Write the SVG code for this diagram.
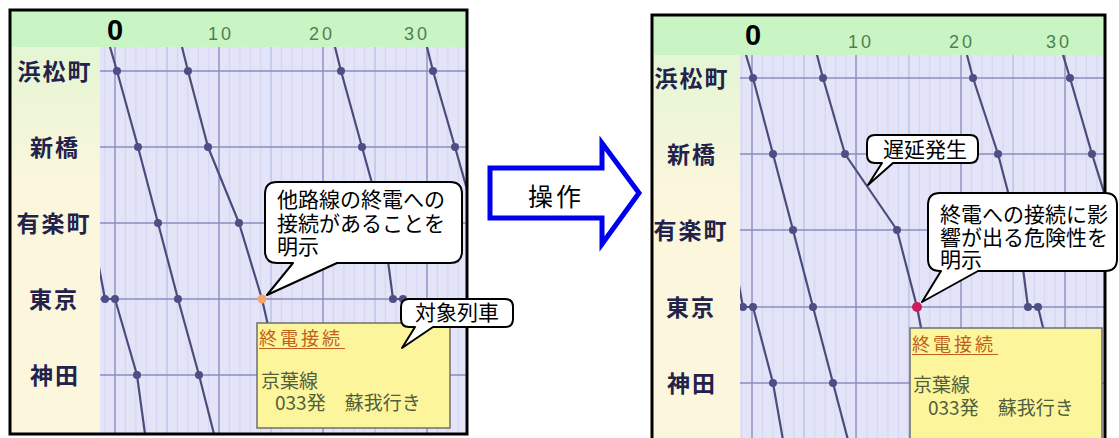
<svg xmlns="http://www.w3.org/2000/svg" width="1119" height="438" viewBox="0 0 1119 438">
<style>
.frame{fill:none;stroke:#000;stroke-width:3}
.hdr{fill:#c9f5c4}
.plot{fill:#e4e4f8}
.maj{stroke:#9494c4;stroke-width:1.5}
.mid{stroke:#b4c4e6;stroke-width:1.2}
.sta{stroke:#8c8cc0;stroke-width:1.5}
.train{fill:none;stroke:#4c4c7c;stroke-width:2.2;stroke-linejoin:round}
.dot{fill:#4e4e86}
.stn{font-family:"Noto Sans CJK JP",sans-serif;font-weight:bold;font-size:23px;fill:#22224a;text-anchor:middle;letter-spacing:2px}
.zero{font-family:"Liberation Sans",sans-serif;font-weight:bold;font-size:29px;fill:#000;text-anchor:middle}
.num{font-family:"Liberation Sans",sans-serif;font-size:18px;fill:#4f7f4f;text-anchor:middle;letter-spacing:3px}
.tip{fill:#fdf59c;stroke:#6e6e6e;stroke-width:1.5}
.tt1{font-family:"Noto Sans CJK JP",sans-serif;font-size:18px;fill:#c0601a;letter-spacing:3px}
.tt2{font-family:"Noto Sans CJK JP",sans-serif;font-size:19px;fill:#50603e}
.bub{fill:#fff;stroke:#000;stroke-width:2;stroke-linejoin:round}
.btx{font-family:"Noto Sans CJK JP",sans-serif;font-size:21px;fill:#000}
</style>
<defs>
<pattern id="minL" patternUnits="userSpaceOnUse" x="110" y="0" width="10.4" height="20"><line x1="5" y1="0" x2="5" y2="20" stroke="#d2d2ee" stroke-width="1"/></pattern>
<pattern id="minR" patternUnits="userSpaceOnUse" x="747" y="0" width="10.45" height="20"><line x1="5" y1="0" x2="5" y2="20" stroke="#d2d2ee" stroke-width="1"/></pattern>
<linearGradient id="lab" x1="0" y1="0" x2="0" y2="1"><stop offset="0" stop-color="#e4f6d4"/><stop offset="0.35" stop-color="#fbf6dc"/><stop offset="1" stop-color="#fbf6dc"/></linearGradient>
<clipPath id="cL"><rect x="100" y="47" width="366" height="387"/></clipPath>
<clipPath id="cR"><rect x="740" y="55" width="364" height="390"/></clipPath>
</defs>
<rect width="1119" height="438" fill="#fff"/>

<g id="panel-before">
<rect x="10" y="10" width="457" height="424" fill="#fff"/>
<rect class="hdr" x="10" y="10" width="457" height="37"/>
<rect x="10" y="47" width="90" height="387" fill="url(#lab)"/>
<rect class="plot" x="100" y="47" width="366" height="387"/>
<rect x="100" y="47" width="366" height="387" fill="url(#minL)"/>
<g clip-path="url(#cL)">
<line class="mid" x1="167" y1="47" x2="167" y2="434"/><line class="mid" x1="271" y1="47" x2="271" y2="434"/><line class="mid" x1="375" y1="47" x2="375" y2="434"/>
<line class="maj" x1="115" y1="47" x2="115" y2="434"/><line class="maj" x1="219" y1="47" x2="219" y2="434"/><line class="maj" x1="323" y1="47" x2="323" y2="434"/><line class="maj" x1="427" y1="47" x2="427" y2="434"/>
<line class="sta" x1="100" y1="71" x2="466" y2="71"/><line class="sta" x1="100" y1="147" x2="466" y2="147"/><line class="sta" x1="100" y1="223" x2="466" y2="223"/><line class="sta" x1="100" y1="299" x2="466" y2="299"/><line class="sta" x1="100" y1="375" x2="466" y2="375"/>
<polyline class="train" points="98,262 105,299 115,299 137,375 145,434"/>
<polyline class="train" points="110,47 117,71 138,147 158,223 178,299 199,375 214,434"/>
<polyline class="train" points="182,47 188,71 208,147 239,223 262,299 285,400"/>
<polyline class="train" points="335,47 341,71 362,147 383,223 393,299 403,299 412,340"/>
<polyline class="train" points="427,47 433,71 455,147 470,200"/>
<circle class="dot" cx="105" cy="299" r="4"/><circle class="dot" cx="115" cy="299" r="4"/><circle class="dot" cx="137" cy="375" r="4"/>
<circle class="dot" cx="117" cy="71" r="4"/><circle class="dot" cx="138" cy="147" r="4"/><circle class="dot" cx="158" cy="223" r="4"/><circle class="dot" cx="178" cy="299" r="4"/><circle class="dot" cx="199" cy="375" r="4"/>
<circle class="dot" cx="188" cy="71" r="4"/><circle class="dot" cx="208" cy="147" r="4"/><circle class="dot" cx="239" cy="223" r="4"/>
<circle cx="262" cy="299" r="4.5" fill="#f2a66e"/>
<circle class="dot" cx="341" cy="71" r="4"/><circle class="dot" cx="362" cy="147" r="4"/><circle class="dot" cx="393" cy="299" r="4"/><circle class="dot" cx="403" cy="299" r="4"/>
<circle class="dot" cx="433" cy="71" r="4"/><circle class="dot" cx="455" cy="147" r="4"/>
</g>
<text class="zero" x="115" y="40">0</text>
<text class="num" x="221" y="40">10</text><text class="num" x="322" y="40">20</text><text class="num" x="417" y="40">30</text>
<text class="stn" x="55" y="80">浜松町</text><text class="stn" x="55" y="156">新橋</text><text class="stn" x="54" y="232">有楽町</text><text class="stn" x="54" y="308">東京</text><text class="stn" x="55" y="384">神田</text>
<g id="tooltip-before">
<rect class="tip" x="257" y="323" width="193" height="105"/>
<text class="tt1" x="259" y="345">終電接続</text><line x1="259" y1="348.5" x2="345" y2="348.5" stroke="#c0601a" stroke-width="1.2"/>
<text class="tt2" x="261" y="388">京葉線</text><text class="tt2" x="275" y="410">033発　蘇我行き</text>
</g>
<rect class="frame" x="10" y="10" width="457" height="424"/>
</g>

<g id="panel-after">
<rect x="652" y="15" width="453" height="430" fill="#fff"/>
<rect class="hdr" x="652" y="15" width="453" height="40"/>
<rect x="652" y="55" width="88" height="390" fill="url(#lab)"/>
<rect class="plot" x="740" y="55" width="364" height="390"/>
<rect x="740" y="55" width="364" height="390" fill="url(#minR)"/>
<g clip-path="url(#cR)">
<line class="mid" x1="804" y1="55" x2="804" y2="445"/><line class="mid" x1="909" y1="55" x2="909" y2="445"/><line class="mid" x1="1013" y1="55" x2="1013" y2="445"/>
<line class="maj" x1="752" y1="55" x2="752" y2="445"/><line class="maj" x1="856" y1="55" x2="856" y2="445"/><line class="maj" x1="961" y1="55" x2="961" y2="445"/><line class="maj" x1="1065" y1="55" x2="1065" y2="445"/>
<line class="sta" x1="740" y1="78" x2="1104" y2="78"/><line class="sta" x1="740" y1="154" x2="1104" y2="154"/><line class="sta" x1="740" y1="230" x2="1104" y2="230"/><line class="sta" x1="740" y1="307" x2="1104" y2="307"/><line class="sta" x1="740" y1="383" x2="1104" y2="383"/>
<polyline class="train" points="738,280 743,307 753,307 773,383 783,440"/>
<polyline class="train" points="746,55 753,78 773,154 793,230 813,307 833,383 848,440"/>
<polyline class="train" points="817,55 823,78 845,154 897,230 917,307 935,400"/>
<polyline class="train" points="967,55 973,78 998,154 1018,230 1028,307 1038,307 1046,340"/>
<polyline class="train" points="1063,55 1070,78 1092,154 1108,205"/>
<circle class="dot" cx="743" cy="307" r="4"/><circle class="dot" cx="753" cy="307" r="4"/><circle class="dot" cx="773" cy="383" r="4"/>
<circle class="dot" cx="753" cy="78" r="4"/><circle class="dot" cx="773" cy="154" r="4"/><circle class="dot" cx="793" cy="230" r="4"/><circle class="dot" cx="813" cy="307" r="4"/><circle class="dot" cx="833" cy="383" r="4"/>
<circle class="dot" cx="823" cy="78" r="4"/><circle class="dot" cx="845" cy="154" r="4"/><circle class="dot" cx="897" cy="230" r="4"/>
<circle cx="917" cy="307" r="5" fill="#cc1c5c"/>
<circle class="dot" cx="973" cy="78" r="4"/><circle class="dot" cx="998" cy="154" r="4"/><circle class="dot" cx="1028" cy="307" r="4"/><circle class="dot" cx="1038" cy="307" r="4"/>
<circle class="dot" cx="1070" cy="78" r="4"/><circle class="dot" cx="1092" cy="154" r="4"/>
</g>
<text class="zero" x="753" y="45">0</text>
<text class="num" x="861" y="48">10</text><text class="num" x="962" y="48">20</text><text class="num" x="1059" y="48">30</text>
<text class="stn" x="692" y="87">浜松町</text><text class="stn" x="692" y="163">新橋</text><text class="stn" x="691" y="239">有楽町</text><text class="stn" x="691" y="316">東京</text><text class="stn" x="692" y="392">神田</text>
<g id="tooltip-after">
<rect class="tip" x="910" y="328" width="192" height="117"/>
<text class="tt1" x="912" y="351">終電接続</text><line x1="912" y1="354.5" x2="998" y2="354.5" stroke="#c0601a" stroke-width="1.2"/>
<text class="tt2" x="913" y="392">京葉線</text><text class="tt2" x="928" y="415">033発　蘇我行き</text>
</g>
<rect class="frame" x="652" y="15" width="453" height="430"/>
</g>

<g id="connectors">
<g id="operation-arrow">
<polygon points="490,168 602,168 602,143 639,193 602,244 602,218 490,218" fill="#fff" stroke="#0000ee" stroke-width="5" stroke-linejoin="miter"/>
<text x="556" y="206" font-family="'Noto Sans CJK JP',sans-serif" font-size="25" text-anchor="middle" letter-spacing="3">操作</text>
</g>
</g>

<g id="callout-connection">
<path class="bub" d="M277,182 H450 Q462,182 462,194 V251 Q462,263 450,263 H337 L267,295 L293,263 H277 Q265,263 265,251 V194 Q265,182 277,182 Z"/>
<text class="btx" x="277" y="207">他路線の終電への</text>
<text class="btx" x="277" y="231">接続があることを</text>
<text class="btx" x="277" y="254">明示</text>
</g>
<g id="callout-target">
<path class="bub" d="M409,299 H505 Q513,299 513,307 V319 Q513,327 505,327 H433 L402,348 L415,327 H409 Q401,327 401,319 V307 Q401,299 409,299 Z"/>
<text class="btx" x="415" y="320">対象列車</text>
</g>
<g id="callout-delay">
<path class="bub" d="M875,135 H970 Q978,135 978,143 V155 Q978,163 970,163 H893 L868,185 L882,163 H875 Q867,163 867,155 V143 Q867,135 875,135 Z"/>
<text class="btx" x="883" y="157">遅延発生</text>
</g>
<g id="callout-risk">
<path class="bub" d="M940,193 H1105 Q1117,193 1117,205 V259 Q1117,271 1105,271 H978 L922,302 L941,271 H940 Q928,271 928,259 V205 Q928,193 940,193 Z"/>
<text class="btx" x="940" y="222">終電への接続に影</text>
<text class="btx" x="940" y="245">響が出る危険性を</text>
<text class="btx" x="940" y="267">明示</text>
</g>
</svg>
